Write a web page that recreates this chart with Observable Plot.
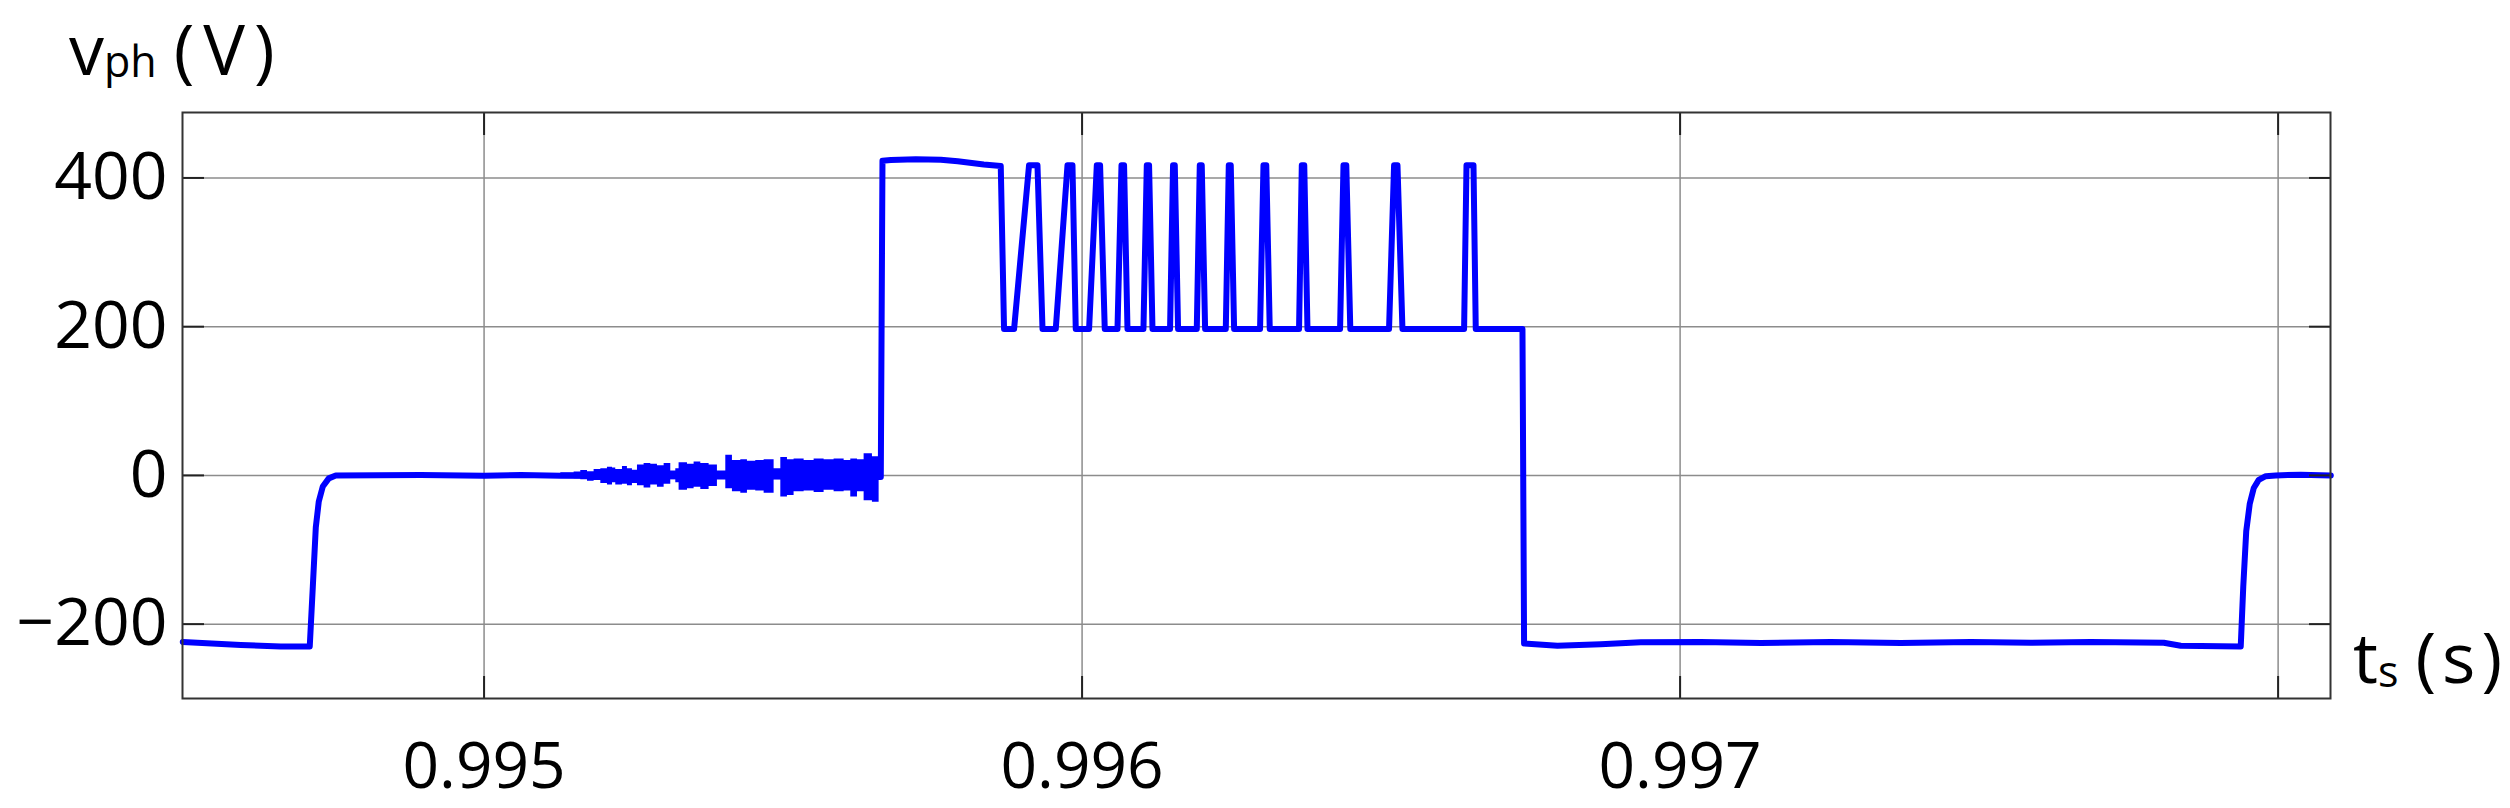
<!DOCTYPE html>
<html>
<head>
<meta charset="utf-8">
<script src="https://cdn.jsdelivr.net/npm/d3@7"></script>
<script src="https://cdn.jsdelivr.net/npm/@observablehq/plot@0.6"></script>
<style>
  html, body { margin: 0; padding: 0; background: #ffffff; }
  #chart { width: 2510px; height: 808px; }
</style>
</head>
<body>
<div id="chart"></div>
<script>
// ---------- data (time in s, phase voltage in V) ----------
// initial negative level and first rise to zero
const startT = [0.9944962, 0.9945932, 0.9946600, 0.9947085, 0.9947136, 0.9947186, 0.9947236, 0.9947303, 0.9947403, 0.9947520];
const startV = [-224, -228, -230, -230, -150, -70, -35, -15, -4, 0];

// near-zero interval (centre line)
const zeroT = [0.9948941, 0.9950000, 0.9950614, 0.9951283, 0.9956634];
const zeroV = [0.5, -0.5, 0.5, -0.5, -2];

// noise envelope around zero (step blocks, visible extent)
const noiseT = [0.9951283, 0.9951506, 0.9951617, 0.9951729, 0.9951840, 0.9951952, 0.9952063, 0.9952147, 0.9952202, 0.9952314,
                0.9952397, 0.9952481, 0.9952565, 0.9952676, 0.9952788, 0.9952899, 0.9953011, 0.9953122, 0.9953206, 0.9953261,
                0.9953401, 0.9953512, 0.9953624, 0.9953763, 0.9953902, 0.9954042, 0.9954153, 0.9954293, 0.9954404, 0.9954543,
                0.9954683, 0.9954850, 0.9954962, 0.9955073, 0.9955184, 0.9955352, 0.9955519, 0.9955686, 0.9955853, 0.9956021,
                0.9956132, 0.9956244, 0.9956355, 0.9956494, 0.9956606];
const noiseHi = [3.5, 4.5, 6.7, 5, 8, 9, 11, 10, 8, 12,
                 9, 7, 14, 16, 15, 13, 16, 6, 9, 17,
                 15, 18, 16, 14, 6, 27, 20, 21, 19, 20,
                 21, 9, 24, 21, 22, 20, 22, 21, 22, 20,
                 22, 21, 29, 25, 25];
const noiseLo = [-3.5, -4.5, -5.8, -8, -7, -11, -13, -10, -13, -12,
                 -14, -11, -14, -17, -13, -16, -12, -6, -10, -20,
                 -18, -16, -19, -15, -6, -18, -22, -24, -20, -21,
                 -24, -3, -29, -27, -22, -21, -23, -20, -22, -21,
                 -29, -22, -34, -36, -36];

// jump to the high plateau and first drop
const topT = [0.9956662, 0.9956801, 0.9957219, 0.9957637, 0.9957921, 0.9958356, 0.9958640, 0.9958695];
const topV = [423, 424, 425, 424.5, 422.5, 418, 416, 197];

// pulses between the 197 V and 417 V levels
const pulseRiseT   = [0.9958863, 0.9959560, 0.9960117, 0.9960592, 0.9961026, 0.9961471, 0.9961918, 0.9962403, 0.9962976, 0.9963628, 0.9964314, 0.9965133, 0.9966388];
const pulseTopT    = [0.9959113, 0.9959756, 0.9960246, 0.9960659, 0.9961082, 0.9961521, 0.9961968, 0.9962453, 0.9963033, 0.9963674, 0.9964371, 0.9965217, 0.9966428];
const pulseTopEndT = [0.9959254, 0.9959839, 0.9960301, 0.9960702, 0.9961120, 0.9961550, 0.9962001, 0.9962486, 0.9963080, 0.9963715, 0.9964418, 0.9965274, 0.9966545];
const pulseFallT   = [0.9959338, 0.9959894, 0.9960379, 0.9960759, 0.9961177, 0.9961605, 0.9962057, 0.9962542, 0.9963138, 0.9963769, 0.9964485, 0.9965357, 0.9966583];
const pulseHigh = 417;
const pulseLow = 197;

// drop to the negative level, and final rise to zero
const endT = [0.9967364, 0.9967391, 0.9967949, 0.9968673, 0.9969342, 0.9970346, 0.9971349, 0.9972520, 0.9973690, 0.9974861, 0.9975864, 0.9976867, 0.9978088, 0.9978372, 0.9979375, 0.9979417, 0.9979467, 0.9979526, 0.9979593, 0.9979676, 0.9979793, 0.9979961, 0.9980379, 0.9980881];
const endV = [197, -226, -229, -227, -224.5, -224, -225.5, -224, -225.5, -224, -225, -224, -225, -229, -230, -150, -75, -38, -17, -6, -1, 0, 1, 0];

// axes
const yTicks = [-200, 0, 200, 400];
const xGridTicks = [0.995, 0.996, 0.997, 0.998];
const xLabelTicks = [0.995, 0.996, 0.997];
const xDomain = [0.9944957, 0.9980876];
const yDomain = [-300, 488];

// ---------- build tables ----------
const wave = [];
startT.forEach((t, i) => wave.push({t, v: startV[i]}));
zeroT.forEach((t, i) => wave.push({t, v: zeroV[i]}));
topT.forEach((t, i) => wave.push({t, v: topV[i]}));
pulseRiseT.forEach((t, i) => {
  wave.push({t, v: pulseLow});
  wave.push({t: pulseTopT[i], v: pulseHigh});
  wave.push({t: pulseTopEndT[i], v: pulseHigh});
  wave.push({t: pulseFallT[i], v: pulseLow});
});
endT.forEach((t, i) => wave.push({t, v: endV[i]}));

const noise = noiseT.map((t, i) => ({t, hi: noiseHi[i], lo: noiseLo[i]}));

const BLUE = "#0000ff";
const fmtX = d3.format(".3f");
const fmtY = d => d < 0 ? "\u2212" + Math.abs(d) : String(d);

const chart = Plot.plot({
  width: 2510,
  height: 808,
  marginLeft: 182,
  marginRight: 180,
  marginTop: 112,
  marginBottom: 110,
  style: {fontFamily: "'Open Sans', 'Noto Sans', sans-serif", fontSize: "66px", color: "#000", background: "#fff"},
  x: {domain: xDomain, label: null},
  y: {domain: yDomain, label: null},
  marks: [
    Plot.gridY(yTicks, {stroke: "#8c8c8c", strokeOpacity: 1, strokeWidth: 1.5}),
    Plot.gridX(xGridTicks, {stroke: "#8c8c8c", strokeOpacity: 1, strokeWidth: 1.5}),
    Plot.areaY(noise, {x: "t", y1: "lo", y2: "hi", curve: "step-after", fill: BLUE}),
    Plot.line(wave, {x: "t", y: "v", stroke: BLUE, strokeWidth: 6, strokeLinejoin: "round", strokeLinecap: "round"}),
    // inward ticks on all four sides
    Plot.axisY(yTicks, {anchor: "left", tickSize: 22, dx: 22, tickFormat: () => "", stroke: "#222", strokeWidth: 2}),
    Plot.axisY(yTicks, {anchor: "right", tickSize: 22, dx: -22, tickFormat: () => "", stroke: "#222", strokeWidth: 2}),
    Plot.axisX(xGridTicks, {anchor: "bottom", tickSize: 22, dy: -22, tickFormat: () => "", stroke: "#222", strokeWidth: 2}),
    Plot.axisX(xGridTicks, {anchor: "top", tickSize: 22, dy: 22, tickFormat: () => "", stroke: "#222", strokeWidth: 2}),
    // tick labels
    Plot.axisY(yTicks, {anchor: "left", tickSize: 0, tickPadding: 15, tickFormat: fmtY, fontSize: 66, label: null}),
    Plot.axisX(xLabelTicks, {anchor: "bottom", tickSize: 0, tickPadding: 44, tickFormat: fmtX, fontSize: 64, label: null}),
    Plot.frame({stroke: "#333", strokeWidth: 2})
  ]
});

document.getElementById("chart").append(chart);

// axis titles with subscripts
const svg = d3.select(chart);
const yTitle = svg.append("text")
  .attr("x", 69).attr("y", 75).attr("text-anchor", "start")
  .attr("font-family", "'Open Sans', sans-serif").attr("font-size", 70).attr("fill", "#000");
yTitle.append("tspan").text("v");
yTitle.append("tspan").attr("font-size", 43).attr("dy", 2).text("ph");
yTitle.append("tspan").attr("dy", -2).attr("dx", 17).attr("letter-spacing", 9).text("(V)");

const xTitle = svg.append("text")
  .attr("x", 2353).attr("y", 683).attr("text-anchor", "start")
  .attr("font-family", "'Open Sans', sans-serif").attr("font-size", 70).attr("fill", "#000");
xTitle.append("tspan").text("t");
xTitle.append("tspan").attr("font-size", 43).attr("dy", 4).text("s");
xTitle.append("tspan").attr("dy", -4).attr("dx", 17).attr("letter-spacing", 6).text("(s)");
</script>
</body>
</html>
